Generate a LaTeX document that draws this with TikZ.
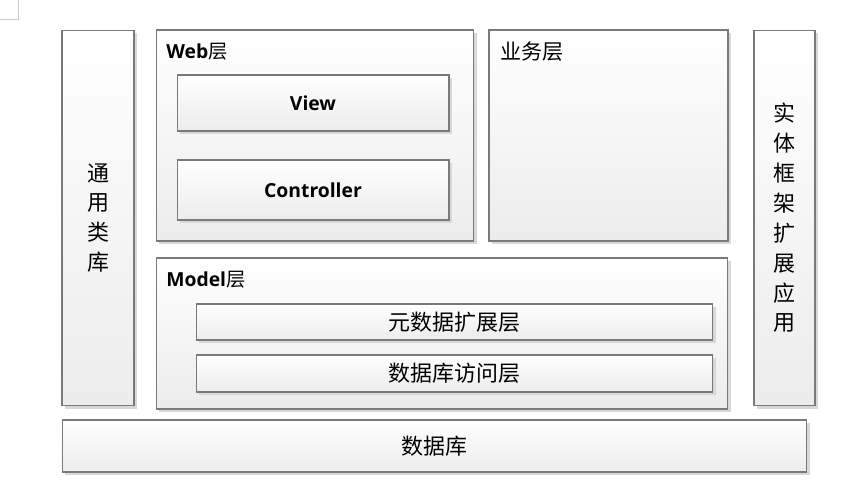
\documentclass[tikz,border=0pt]{standalone}
\usepackage{fontspec}
\setsansfont{Open Sans}
\newfontfamily\cjk{Noto Sans CJK SC}
\usetikzlibrary{positioning, shadows}

\definecolor{edge}{HTML}{7A7A7A}
\definecolor{shade}{HTML}{D8D8D8}
\definecolor{bottom}{HTML}{ECECEC}

\tikzset{
	layer/.style={draw=edge, line width=0.6pt, top color=white, bottom color=bottom,
		inner sep=0pt, drop shadow={shadow xshift=0.06cm, shadow yshift=-0.06cm, fill=shade, opacity=1}},
	title/.style={anchor=west, inner sep=0pt, font=\sffamily\fontsize{11}{13}\selectfont},
	cn/.style={font=\cjk\fontsize{12.5}{17}\selectfont, align=center},
	en/.style={font=\sffamily\bfseries\fontsize{11}{13}\selectfont}
}

\begin{document}
\begin{tikzpicture}[x=0.02cm, y=-0.02cm]
		\useasboundingbox (0, 0) rectangle (860, 497);
		\draw[gray!40, line width=0.4pt] (18, 0) -- (18, 19) -- (0, 19);

		% side columns
		\node[layer, cn, minimum width=1.44cm, minimum height=7.52cm] (lib) at (98, 218) {通\\用\\类\\库};
		\node[layer, cn, minimum width=1.22cm, minimum height=7.52cm] (ext) at (784.5, 218) {实\\体\\框\\架\\扩\\展\\应\\用};

		% web layer
		\node[layer, minimum width=6.36cm, minimum height=4.22cm] (web) at (315, 135.5) {};
		\node[title] (webt) at (166, 52) {\textbf{Web}{\cjk\mdseries 层}};
		\node[layer, en, minimum width=5.44cm, minimum height=1.12cm] (view) at (313, 103) {View};
		\node[layer, en, minimum width=5.44cm, minimum height=1.2cm] (ctrl) at (313, 190) {Controller};

		% business layer
		\node[layer, minimum width=4.78cm, minimum height=4.22cm] (biz) at (608.5, 135.5) {};
		\node[title, font=\cjk\fontsize{12}{14}\selectfont] (bizt) at (500, 52) {业务层};

		% model layer
		\node[layer, minimum width=11.44cm, minimum height=3.02cm] (model) at (442, 333.5) {};
		\node[title] (modelt) at (166, 280) {\textbf{Model}{\cjk\mdseries 层}};
		\node[layer, cn, minimum width=10.34cm, minimum height=0.72cm] (meta) at (454.5, 322) {元数据扩展层};
		\node[layer, cn, minimum width=10.34cm, minimum height=0.74cm] (dal) at (454.5, 373.5) {数据库访问层};

		% database
		\node[layer, cn, minimum width=14.9cm, minimum height=1.04cm] (db) at (434.5, 446) {数据库};
	\end{tikzpicture}
\end{document}
